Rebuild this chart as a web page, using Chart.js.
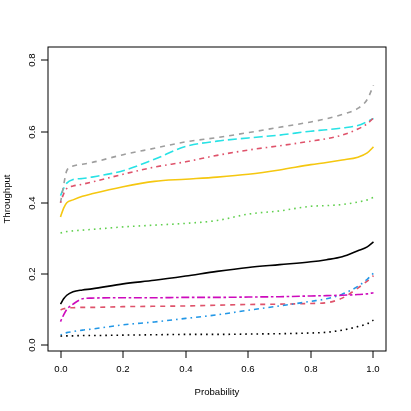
<!DOCTYPE html>
<html>
<head>
<meta charset="utf-8">
<script src="https://cdn.jsdelivr.net/npm/chart.js@4.4.1/dist/chart.umd.min.js"></script>
<style>
  html, body { margin: 0; padding: 0; background: #fff; }
  #wrap { width: 411px; height: 411px; }
</style>
</head>
<body>
<div id="wrap"><canvas id="grafica" width="411" height="411"></canvas></div>
<script>
// probabilidades comunes a todas las series
const probability = [0, 0.01, 0.02, 0.04, 0.07, 0.1, 0.2, 0.3, 0.4, 0.5, 0.6, 0.7, 0.8, 0.85, 0.9, 0.95, 0.98, 1.0];

const negroSolido   = [0.115, 0.13, 0.14, 0.15, 0.155, 0.158, 0.172, 0.182, 0.194, 0.207, 0.218, 0.226, 0.234, 0.24, 0.248, 0.265, 0.276, 0.29];
const rojoGuiones   = [0.099, 0.102, 0.104, 0.105, 0.106, 0.106, 0.108, 0.109, 0.11, 0.112, 0.114, 0.115, 0.117, 0.119, 0.132, 0.16, 0.18, 0.195];
const verdePuntos   = [0.315, 0.317, 0.319, 0.321, 0.323, 0.325, 0.332, 0.337, 0.342, 0.35, 0.368, 0.377, 0.39, 0.392, 0.395, 0.402, 0.408, 0.415];
const azulPuntoRaya = [0.028, 0.032, 0.035, 0.038, 0.042, 0.045, 0.057, 0.065, 0.075, 0.085, 0.098, 0.11, 0.123, 0.13, 0.143, 0.165, 0.185, 0.202];
const cianRayaLarga = [0.42, 0.44, 0.455, 0.465, 0.468, 0.472, 0.49, 0.522, 0.558, 0.573, 0.582, 0.59, 0.601, 0.605, 0.61, 0.617, 0.628, 0.637];
const magentaDosRay = [0.066, 0.085, 0.10, 0.115, 0.13, 0.132, 0.133, 0.133, 0.134, 0.134, 0.135, 0.136, 0.138, 0.139, 0.14, 0.142, 0.144, 0.147];
const oroSolido     = [0.36, 0.385, 0.40, 0.408, 0.418, 0.425, 0.445, 0.46, 0.466, 0.472, 0.48, 0.492, 0.507, 0.513, 0.52, 0.528, 0.54, 0.557];
const grisGuiones   = [0.40, 0.45, 0.49, 0.503, 0.508, 0.513, 0.535, 0.553, 0.571, 0.583, 0.597, 0.612, 0.627, 0.636, 0.648, 0.665, 0.69, 0.73];
const negroPuntos   = [0.025, 0.026, 0.026, 0.026, 0.027, 0.027, 0.028, 0.029, 0.03, 0.03, 0.031, 0.032, 0.034, 0.036, 0.042, 0.052, 0.06, 0.07];
const rojoPuntoRaya = [0.40, 0.425, 0.44, 0.447, 0.452, 0.458, 0.48, 0.50, 0.515, 0.533, 0.548, 0.56, 0.573, 0.58, 0.59, 0.607, 0.622, 0.638];

const xTicks = [0, 0.2, 0.4, 0.6, 0.8, 1.0];
const yTicks = [0, 0.2, 0.4, 0.6, 0.8];

// patrones de linea tipo R
const solido = [];
const guiones = [5, 5];
const puntos = [1.6, 4];
const puntoRaya = [1.6, 4, 5, 4];
const rayaLarga = [9, 4];
const dosRayas = [2.6, 2.6, 8, 2.6];

function serie(valores, color, dash) {
    return {
        data: probability.map((p, i) => ({ x: p, y: valores[i] })),
        borderColor: color,
        borderDash: dash,
        borderWidth: 1.6,
        pointRadius: 0,
        fill: false,
        cubicInterpolationMode: 'monotone'
    };
}

const datasets = [
    serie(negroSolido, '#000000', solido),
    serie(rojoGuiones, '#DF536B', guiones),
    serie(verdePuntos, '#61D04F', puntos),
    serie(azulPuntoRaya, '#2297E6', puntoRaya),
    serie(cianRayaLarga, '#28E2E5', rayaLarga),
    serie(magentaDosRay, '#CD0BBC', dosRayas),
    serie(oroSolido, '#F5C710', solido),
    serie(grisGuiones, '#9E9E9E', guiones),
    serie(negroPuntos, '#000000', puntos),
    serie(rojoPuntoRaya, '#DF536B', puntoRaya)
];
// en R la ultima serie queda encima
datasets.forEach((d, i) => { d.order = datasets.length - i; });

const FUENTE = '9.6px "Liberation Sans", Arial, sans-serif';

const ejesR = {
    id: 'ejesR',
    afterDraw(chart) {
        const ctx = chart.ctx;
        const a = chart.chartArea;
        const sx = chart.scales.x;
        const sy = chart.scales.y;
        ctx.save();
        ctx.strokeStyle = '#000';
        ctx.lineWidth = 1;
        ctx.strokeRect(a.left, a.top, a.right - a.left, a.bottom - a.top);
        ctx.fillStyle = '#000';
        ctx.font = FUENTE;

        // eje x
        ctx.textAlign = 'center';
        ctx.textBaseline = 'alphabetic';
        xTicks.forEach(t => {
            const px = Math.round(sx.getPixelForValue(t));
            ctx.beginPath();
            ctx.moveTo(px, a.bottom);
            ctx.lineTo(px, a.bottom + 7);
            ctx.stroke();
            ctx.fillText(t.toFixed(1), px, 372);
        });
        ctx.fillText('Probability', (a.left + a.right) / 2, 395);

        // eje y
        yTicks.forEach(t => {
            const py = Math.round(sy.getPixelForValue(t));
            ctx.beginPath();
            ctx.moveTo(a.left, py);
            ctx.lineTo(a.left - 7, py);
            ctx.stroke();
            ctx.save();
            ctx.translate(35, py);
            ctx.rotate(-Math.PI / 2);
            ctx.fillText(t.toFixed(1), 0, 0);
            ctx.restore();
        });
        ctx.save();
        ctx.translate(10, (a.top + a.bottom) / 2);
        ctx.rotate(-Math.PI / 2);
        ctx.fillText('Throughput', 0, 0);
        ctx.restore();
        ctx.restore();
    }
};

const config = {
    type: 'line',
    data: { datasets },
    options: {
        responsive: false,
        animation: false,
        layout: { padding: { left: 48, top: 47, right: 25, bottom: 60 } },
        plugins: { legend: { display: false }, tooltip: { enabled: false } },
        scales: {
            x: { type: 'linear', min: -0.04, max: 1.04, display: false },
            y: { type: 'linear', min: -0.0166, max: 0.8375, display: false }
        }
    },
    plugins: [ejesR]
};

window.grafica = new Chart(document.getElementById('grafica'), config);
</script>
</body>
</html>
